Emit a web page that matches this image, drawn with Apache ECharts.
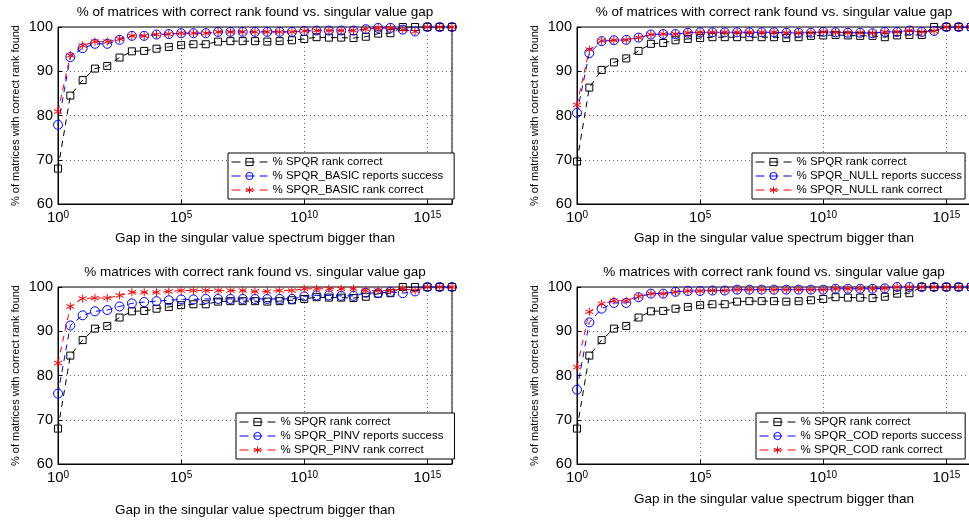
<!DOCTYPE html>
<html lang="en">
<head>
<meta charset="UTF-8">
<title>% of matrices with correct rank found vs. singular value gap</title>
<script src="https://cdn.jsdelivr.net/npm/echarts@6/dist/echarts.min.js"></script>
<style>
  body { margin: 0; background: #fff; }
  #chart { width: 969px; height: 523px; }
</style>
</head>
<body>
<div id="chart"></div>
<script>
// x = exponent of the gap (10^x), one point every half decade
const gapExp = [0, 0.5, 1, 1.5, 2, 2.5, 3, 3.5, 4, 4.5, 5, 5.5, 6, 6.5, 7, 7.5, 8,
                8.5, 9, 9.5, 10, 10.5, 11, 11.5, 12, 12.5, 13, 13.5, 14, 14.5, 15, 15.5, 16];
const xTickExp = [0, 5, 10, 15];

// % SPQR rank correct (same test set in three panels)
const spqrRank = [68.0, 84.5, 88.0, 90.6, 91.2, 93.1, 94.5, 94.6, 95.1, 95.5, 95.9, 96.1, 96.1, 96.7, 96.8, 96.8, 96.8,
                  96.7, 96.8, 97.0, 97.3, 97.7, 97.6, 97.6, 97.5, 97.8, 98.5, 98.6, 100, 100, 100, 100, 100];
// top left: SPQR_BASIC
const basicSuccess = [77.9, 93.2, 95.2, 96.2, 96.2, 97.1, 98.0, 98.0, 98.3, 98.4, 98.6, 98.6, 98.6, 98.9, 98.9, 98.9, 98.9,
                      98.9, 98.9, 98.9, 99.1, 99.2, 99.2, 99.2, 99.2, 99.5, 99.8, 99.8, 99.4, 99.0, 100, 100, 100];
const basicRank = [80.9, 93.6, 95.8, 96.7, 96.7, 97.3, 98.0, 98.0, 98.3, 98.4, 98.6, 98.6, 98.6, 98.9, 98.9, 98.9, 98.9,
                   98.9, 98.9, 98.9, 99.1, 99.2, 99.2, 99.2, 99.2, 99.5, 99.8, 99.8, 99.4, 99.0, 100, 100, 100];
// top right: SPQR_NULL
const spqrRankNull = [69.6, 86.3, 90.3, 92.0, 92.9, 94.6, 96.2, 96.4, 97.0, 97.3, 97.5, 97.7, 97.7, 97.7, 97.7, 97.7, 97.7,
                      97.5, 97.7, 98.0, 98.1, 98.2, 98.1, 98.0, 98.0, 97.7, 98.1, 98.2, 98.2, 100, 100, 100, 100];
const nullSuccess = [80.6, 94.1, 96.8, 97.0, 97.1, 97.6, 98.3, 98.4, 98.4, 98.7, 98.8, 98.8, 98.8, 98.8, 98.8, 98.8, 98.8,
                     98.7, 98.7, 98.7, 98.9, 98.8, 98.7, 98.7, 98.6, 98.9, 98.9, 99.2, 98.9, 99.1, 100, 100, 100];
const nullRank = [82.4, 94.9, 96.9, 97.0, 97.1, 97.6, 98.3, 98.4, 98.4, 98.7, 98.8, 98.8, 98.8, 98.8, 98.8, 98.8, 98.8,
                  98.7, 98.7, 98.7, 98.9, 98.8, 98.7, 98.7, 98.6, 98.9, 98.9, 99.2, 98.9, 99.1, 100, 100, 100];
// bottom left: SPQR_PINV
const pinvSuccess = [75.9, 91.3, 93.6, 94.5, 94.8, 95.6, 96.3, 96.6, 96.8, 97.0, 97.2, 97.2, 97.3, 97.3, 97.3, 97.3, 97.3,
                     97.3, 97.3, 97.3, 97.9, 98.1, 98.1, 98.0, 98.0, 98.7, 98.6, 98.9, 98.6, 99.0, 100, 100, 100];
const pinvRank = [82.8, 95.6, 97.4, 97.5, 97.5, 98.1, 98.8, 98.8, 98.8, 99.0, 99.2, 99.2, 99.2, 99.2, 99.2, 99.2, 99.0,
                  99.0, 99.2, 99.2, 99.6, 99.6, 99.6, 99.6, 99.6, 99.2, 99.2, 99.2, 99.6, 99.2, 100, 100, 100];
// bottom right: SPQR_COD
const codSuccess = [76.8, 92.0, 95.1, 96.4, 96.4, 97.7, 98.5, 98.5, 98.9, 99.1, 99.1, 99.2, 99.2, 99.4, 99.4, 99.4, 99.4,
                    99.4, 99.4, 99.4, 99.4, 99.6, 99.6, 99.6, 99.6, 99.7, 100, 100, 100, 100, 100, 100, 100];
const codRank = [81.9, 94.4, 96.2, 96.9, 96.9, 97.9, 98.5, 98.5, 98.9, 99.1, 99.1, 99.2, 99.2, 99.4, 99.4, 99.4, 99.4,
                 99.4, 99.4, 99.4, 99.4, 99.6, 99.6, 99.6, 99.6, 99.7, 100, 100, 100, 100, 100, 100, 100];

const FONT = '"Liberation Sans", Arial, Helvetica, sans-serif';
const ASTERISK = 'path://M5,0L5,10M0.7,2.5L9.3,7.5M0.7,7.5L9.3,2.5';
const mark = {
  black: { color: '#000000', symbol: 'rect', size: 7 },
  blue:  { color: '#0000ff', symbol: 'circle', size: 9 },
  red:   { color: '#ff0000', symbol: ASTERISK, size: 8 }
};

const titleA = '% of matrices with correct rank found vs. singular value gap';
const titleB = '% matrices with correct rank found vs. singular value gap';

const panels = [
  { left: 58,  top: 27,  title: titleA, titleY: 12,  xNameGap: 27, legendPos: [228, 153], legendPadR: 11,
    lines: [['% SPQR rank correct', spqrRank, 'black'],
            ['% SPQR_BASIC reports success', basicSuccess, 'blue'],
            ['% SPQR_BASIC rank correct', basicRank, 'red']] },
  { left: 577, top: 27,  title: titleA, titleY: 12,  xNameGap: 27, legendPos: [752, 153], legendPadR: 3,
    lines: [['% SPQR rank correct', spqrRankNull, 'black'],
            ['% SPQR_NULL reports success', nullSuccess, 'blue'],
            ['% SPQR_NULL rank correct', nullRank, 'red']] },
  { left: 58,  top: 287, title: titleB, titleY: 272, xNameGap: 39, legendPos: [236, 413], legendPadR: 11,
    lines: [['% SPQR rank correct', spqrRank, 'black'],
            ['% SPQR_PINV reports success', pinvSuccess, 'blue'],
            ['% SPQR_PINV rank correct', pinvRank, 'red']] },
  { left: 577, top: 287, title: titleB, titleY: 272, xNameGap: 28, legendPos: [756, 413], legendPadR: 3,
    lines: [['% SPQR rank correct', spqrRank, 'black'],
            ['% SPQR_COD reports success', codSuccess, 'blue'],
            ['% SPQR_COD rank correct', codRank, 'red']] }
];
const PW = 394, PH = 177;

const chart = echarts.init(document.getElementById('chart'));

const splitStyle = { show: true, lineStyle: { color: '#666', width: 1, type: [1, 3] } };
const grid = [], xAxis = [], yAxis = [], series = [], legend = [], graphic = [];

panels.forEach((p, i) => {
  grid.push({ left: p.left, top: p.top, width: PW, height: PH, show: true,
              borderColor: '#000', borderWidth: 1, backgroundColor: '#fff', outerBoundsMode: 'none' });
  xAxis.push({
    gridIndex: i, type: 'value', min: 0, max: 16, interval: 5,
    name: 'Gap in the singular value spectrum bigger than', nameLocation: 'middle', nameGap: p.xNameGap,
    nameTextStyle: { fontSize: 13.5, color: '#000', fontFamily: FONT },
    axisLine: { show: true, onZero: false, lineStyle: { color: '#000', width: 1 } },
    axisTick: { show: true, inside: true, length: 4, lineStyle: { color: '#000' } },
    axisLabel: {
      margin: 6, color: '#000',
      formatter: v => xTickExp.indexOf(v) >= 0 ? '{b|10}{e|' + v + '}' : '',
      rich: { b: { fontSize: 15, fontFamily: FONT, color: '#000' },
              e: { fontSize: 10, fontFamily: FONT, color: '#000', verticalAlign: 'top' } }
    },
    splitLine: splitStyle
  });
  yAxis.push({
    gridIndex: i, type: 'value', min: 60, max: 100, interval: 10,
    name: '% of matrices with correct rank found', nameLocation: 'middle', nameGap: 37,
    nameTextStyle: { fontSize: 11, color: '#000', fontFamily: FONT },
    axisLine: { show: true, onZero: false, lineStyle: { color: '#000', width: 1 } },
    axisTick: { show: true, inside: true, length: 4, lineStyle: { color: '#000' } },
    axisLabel: { fontSize: 14.5, color: '#000', fontFamily: FONT, margin: 5 },
    splitLine: splitStyle
  });
  p.lines.forEach(([name, vals, key]) => {
    const m = mark[key];
    series.push({
      name, type: 'line', xAxisIndex: i, yAxisIndex: i,
      data: gapExp.map((x, k) => [x, vals[k]]),
      symbol: m.symbol, symbolSize: m.size, showAllSymbol: true,
      lineStyle: { color: m.color, width: 1, type: [6, 5] },
      itemStyle: { color: 'rgba(0,0,0,0)', borderColor: m.color, borderWidth: 1 },
      emphasis: { disabled: true }, silent: true
    });
  });
  legend.push({
    data: p.lines.map(l => l[0]), orient: 'vertical',
    left: p.legendPos[0], top: p.legendPos[1],
    itemWidth: 36, itemHeight: 9, itemGap: 0, padding: [2, p.legendPadR, 2, 3],
    backgroundColor: '#fff', borderColor: '#000', borderWidth: 1, borderRadius: 0,
    selectedMode: false,
    lineStyle: { width: 1, type: [9, 5] },
    itemStyle: { borderWidth: 1 },
    textStyle: { fontSize: 11.5, lineHeight: 14, color: '#000', fontFamily: FONT }
  });
  graphic.push({
    type: 'text', x: p.left + PW / 2, y: p.titleY,
    style: { text: p.title, fill: '#000', font: '13.5px ' + FONT, align: 'center', verticalAlign: 'middle' }
  });
});

chart.setOption({
  animation: false,
  backgroundColor: '#fff',
  textStyle: { fontFamily: FONT },
  grid, xAxis, yAxis, series, legend, graphic
});
</script>
</body>
</html>
